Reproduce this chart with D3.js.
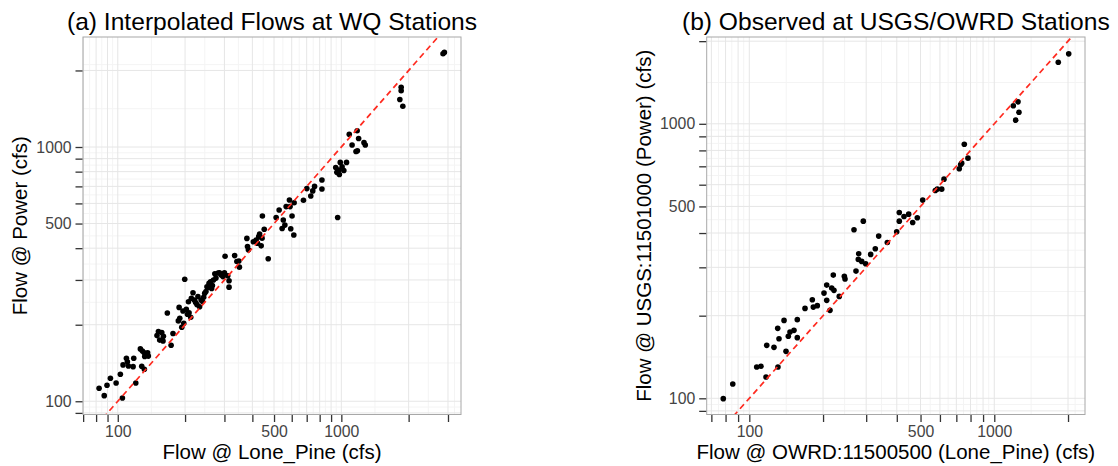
<!DOCTYPE html>
<html>
<head>
<meta charset="utf-8">
<script src="https://cdn.jsdelivr.net/npm/d3@7"></script>
<style>
  body { margin: 0; background: #fff; }
  text { font-family: "Liberation Sans", Arial, Helvetica, sans-serif; }
</style>
</head>
<body>
<svg id="chart" width="1118" height="466"></svg>
<script>
// (a) Interpolated daily flows at the WQ stations (cfs)
const lonePineA = [82.5, 87, 89.5, 92.7, 98.3, 102.7, 104.9, 105.6, 109.3, 110.4, 111.6, 117.9, 117.1, 120.4,
  126.2, 128.9, 131.4, 134.2, 137, 128, 131.5, 152, 157.3, 149.8, 154, 159.4, 173.2, 176.6, 166.6, 189.4,
  186.6, 197.3, 193.3, 188.1, 199.3, 195.8, 202.6, 208.4, 212, 207.1, 213.4, 217, 228.4, 223, 232.3, 239,
  244.8, 250.6, 256, 263, 242.3, 271.8, 281, 290.5, 295.5, 302, 310.5, 314.6, 314.6, 333.3, 341, 350, 348,
  205, 220, 226, 236, 248, 255, 260, 268, 275, 285, 265, 300, 160, 132, 136,
  378, 380.5, 384, 404, 416, 422, 427, 431, 438, 442, 443.5, 452, 471, 511, 527, 550, 543.5, 559, 566.5,
  586, 590, 594, 602, 613, 615, 677, 701, 730, 745, 759, 819, 819, 963, 944, 974, 989, 1008, 1026, 980,
  1055, 1085, 1117, 1177, 1195, 1163, 1180, 1263, 1280, 955,
  2850, 2890, 1852, 1852, 1827, 1884];
const powerA = [112.5, 105.2, 115.6, 123.1, 118, 127.7, 103, 139, 147.6, 143, 137.6, 147.6, 136.8, 118,
  160.7, 157.6, 155, 152.5, 150.5, 137.3, 133.6, 188, 186.3, 181.2, 174, 172.6, 166, 184.6, 222.4, 212,
  207, 202.6, 195.5, 234, 302, 226.6, 230, 223, 213.9, 246.3, 254.3, 267, 258, 244.4, 235.5, 247.3,
  265.7, 282, 291, 277.5, 256.6, 317.3, 319.3, 314, 309.2, 372, 311.5, 298, 281, 374, 354.6, 336.8, 356,
  220, 250, 240, 250, 270, 280, 295, 300, 305, 320, 285, 320, 180, 150, 155,
  437, 406, 394, 424, 431, 418, 444, 455, 408.5, 438, 535, 475, 363.5, 528, 565, 516, 478, 493, 583,
  619, 583, 477, 535, 451, 604, 617, 686, 642, 672, 700, 742, 684, 528, 830, 812, 870, 835, 808, 780,
  870, 1123, 1019, 1158, 1080, 960, 966, 1040, 1019, 795,
  2328, 2355, 1717, 1665, 1537, 1447];

// (b) Observed flows at the gauging stations (cfs)
const lonePineB = [78.3, 85.6, 107.2, 111.6, 117.0, 130.9, 117.8, 126.1, 130.6, 132.2, 138.6, 141.2, 144.3,
  146.6, 152.2, 157.0, 157.0, 168.8, 180.8, 182.5, 189.5, 201.8, 207.0, 207.0, 213.5, 216.9, 221.6, 220.2,
  232.9, 244.3, 245.9, 267.5, 272.6, 279.6, 278.6, 292.0, 287.6, 298.6, 312.9, 326.8, 337.4, 365.9, 399.6,
  409.5, 409.5, 428.0, 447.3, 464.4, 485.0, 510.3, 574.5, 585.3, 610.1, 623.4, 719.6, 729.3, 736.1, 754.4,
  780.8, 1196, 1250, 1261, 1223, 1825, 2013];
const powerB = [99.7, 112.7, 130.0, 130.8, 119.6, 130.0, 155.9, 153.3, 179.8, 164.9, 192.2, 148.3, 168.2,
  174.3, 176.8, 193.4, 166.3, 212.6, 228.7, 214.9, 217.5, 241.7, 258.5, 227.4, 209.1, 252.1, 247.3, 281.1,
  235.1, 278.1, 271.9, 411.3, 290.7, 336.4, 320.6, 442.0, 315.3, 309.3, 334.4, 350.7, 389.8, 369.7, 404.5,
  442.0, 475.4, 459.7, 468.7, 437.2, 454.8, 527.2, 571.8, 578.0, 578.0, 628.6, 685.8, 711.0, 718.8, 842.8,
  749.5, 1163, 1202, 1102, 1031, 1676, 1798];

// Axis breaks; only some of them carry a label
const xBreaksA = [70, 80, 90, 100, 200, 300, 400, 500, 600, 700, 800, 900, 1000, 2000, 3000];
const xBreaksB = [70, 80, 90, 100, 200, 300, 400, 500, 600, 700, 800, 900, 1000, 2000];
const yBreaks = [90, 100, 200, 300, 400, 500, 600, 700, 800, 900, 1000, 2000];
const labeledBreaks = [100, 500, 1000];

const panelTitles = ["(a) Interpolated Flows at WQ Stations", "(b) Observed at USGS/OWRD Stations"];
const xTitles = ["Flow @ Lone_Pine (cfs)", "Flow @ OWRD:11500500 (Lone_Pine) (cfs)"];
const yTitles = ["Flow @ Power (cfs)", "Flow @ USGS:11501000 (Power) (cfs)"];

const svg = d3.select("#chart");

const panels = [
  { x: lonePineA, y: powerA, xBreaks: xBreaksA, xDomain: [69.9, 3430], yDomain: [88.7, 2708],
    left: 83, right: 461, top: 37, bottom: 414.5, yTitleX: 27,
    title: panelTitles[0], xTitle: xTitles[0], yTitle: yTitles[0] },
  { x: lonePineB, y: powerB, xBreaks: xBreaksB, xDomain: [67.0, 2346], yDomain: [87.3, 2071],
    left: 706.7, right: 1085, top: 37, bottom: 414.5, yTitleX: 651,
    title: panelTitles[1], xTitle: xTitles[1], yTitle: yTitles[1] }
];

// minor breaks halfway (in log space) between major ones, extended past the ends
function minorBreaks(breaks, domain) {
  const lb = breaks.map(Math.log10);
  const step = lb[1] - lb[0];
  const ld = domain.map(Math.log10);
  let b = lb.slice();
  if (ld[0] < b[0]) b.unshift(b[0] - step);
  if (ld[1] > b[b.length - 1]) b.push(b[b.length - 1] + step);
  const out = [];
  for (let i = 0; i < b.length - 1; i++) out.push(Math.pow(10, (b[i] + b[i + 1]) / 2));
  return out.filter(v => v > domain[0] && v < domain[1]);
}

panels.forEach((p, i) => {
  const xs = d3.scaleLog().domain(p.xDomain).range([p.left, p.right]);
  const ys = d3.scaleLog().domain(p.yDomain).range([p.bottom, p.top]);
  const g = svg.append("g");

  g.append("rect").attr("x", p.left).attr("y", p.top)
    .attr("width", p.right - p.left).attr("height", p.bottom - p.top).attr("fill", "#fff");

  // grid
  const grid = g.append("g");
  grid.selectAll(".vmin").data(minorBreaks(p.xBreaks, p.xDomain)).join("line")
    .attr("x1", d => xs(d)).attr("x2", d => xs(d)).attr("y1", p.top).attr("y2", p.bottom)
    .attr("stroke", "#f4f4f4").attr("stroke-width", 1);
  grid.selectAll(".hmin").data(minorBreaks(yBreaks, p.yDomain)).join("line")
    .attr("y1", d => ys(d)).attr("y2", d => ys(d)).attr("x1", p.left).attr("x2", p.right)
    .attr("stroke", "#f4f4f4").attr("stroke-width", 1);
  grid.selectAll(".vmaj").data(p.xBreaks).join("line")
    .attr("x1", d => xs(d)).attr("x2", d => xs(d)).attr("y1", p.top).attr("y2", p.bottom)
    .attr("stroke", "#e6e6e6").attr("stroke-width", 1);
  grid.selectAll(".hmaj").data(yBreaks).join("line")
    .attr("y1", d => ys(d)).attr("y2", d => ys(d)).attr("x1", p.left).attr("x2", p.right)
    .attr("stroke", "#e6e6e6").attr("stroke-width", 1);

  const clipId = "clip" + i;
  g.append("clipPath").attr("id", clipId).append("rect")
    .attr("x", p.left).attr("y", p.top).attr("width", p.right - p.left).attr("height", p.bottom - p.top);

  const plot = g.append("g").attr("clip-path", `url(#${clipId})`);
  const lo = Math.min(p.xDomain[0], p.yDomain[0]), hi = Math.max(p.xDomain[1], p.yDomain[1]);

  plot.selectAll("circle").data(p.x.map((v, k) => [v, p.y[k]])).join("circle")
    .attr("cx", d => xs(d[0])).attr("cy", d => ys(d[1])).attr("r", 2.8).attr("fill", "#000");

  // 1:1 line
  plot.append("line")
    .attr("x1", xs(lo)).attr("y1", ys(lo)).attr("x2", xs(hi)).attr("y2", ys(hi))
    .attr("stroke", "#ff2a1f").attr("stroke-width", 1.7).attr("stroke-dasharray", "6,4");

  g.append("rect").attr("x", p.left).attr("y", p.top)
    .attr("width", p.right - p.left).attr("height", p.bottom - p.top)
    .attr("fill", "none").attr("stroke", "#a8a8a8").attr("stroke-width", 1);

  const fmt = d => labeledBreaks.includes(d) ? String(d) : "";

  const xAxis = d3.axisBottom(xs).tickValues(p.xBreaks).tickFormat(fmt).tickSize(7).tickPadding(4);
  const gx = g.append("g").attr("transform", `translate(0,${p.bottom + 0.5})`).call(xAxis);
  gx.select(".domain").remove();
  gx.selectAll(".tick line").attr("stroke", "#333").attr("stroke-width", 1.3);
  gx.selectAll(".tick text").attr("fill", "#444").style("font-size", "15.8px")
    .style("font-family", '"Liberation Sans", Arial, sans-serif');

  const yAxis = d3.axisLeft(ys).tickValues(yBreaks).tickFormat(fmt).tickSize(7).tickPadding(4);
  const gy = g.append("g").attr("transform", `translate(${p.left - 0.5},0)`).call(yAxis);
  gy.select(".domain").remove();
  gy.selectAll(".tick line").attr("stroke", "#333").attr("stroke-width", 1.3);
  gy.selectAll(".tick text").attr("fill", "#444").style("font-size", "15.8px")
    .style("font-family", '"Liberation Sans", Arial, sans-serif');

  const cx = (p.left + p.right) / 2, cy = (p.top + p.bottom) / 2;
  g.append("text").attr("x", cx).attr("y", 30).attr("text-anchor", "middle")
    .style("font-size", "24.6px").attr("fill", "#000").text(p.title);
  g.append("text").attr("x", cx).attr("y", 459).attr("text-anchor", "middle")
    .style("font-size", "20.5px").attr("fill", "#000").text(p.xTitle);
  g.append("text").attr("transform", `translate(${p.yTitleX},${cy}) rotate(-90)`)
    .attr("text-anchor", "middle").style("font-size", "20.5px").attr("fill", "#000").text(p.yTitle);
});
</script>
</body>
</html>
